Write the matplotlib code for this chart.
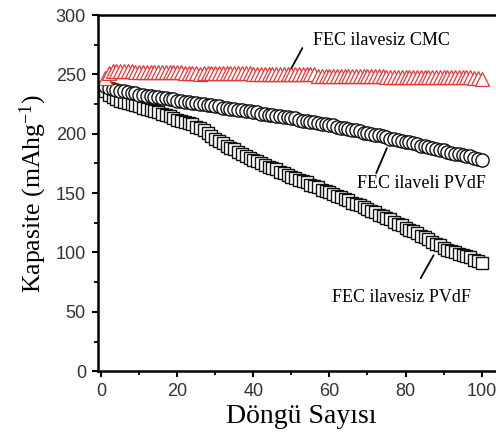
import matplotlib
matplotlib.use("Agg")
import matplotlib.pyplot as plt
import numpy as np

cycles = list(range(1, 101))

cmc_fec_free = [
    247, 251, 253, 253, 253, 253, 253, 253, 252, 252,
    252, 252, 252, 252, 252, 252, 252, 252, 252, 252,
    252, 251, 251, 251, 251, 250, 251, 251, 251, 251,
    251, 251, 251, 251, 251, 251, 251, 251, 251, 250,
    250, 250, 250, 250, 250, 250, 250, 250, 250, 250,
    250, 250, 250, 250, 250, 250, 249, 249, 249, 249,
    249, 249, 249, 249, 249, 249, 249, 249, 249, 249,
    249, 249, 249, 249, 248, 248, 248, 248, 248, 248,
    248, 248, 248, 248, 248, 248, 248, 248, 248, 248,
    248, 248, 248, 248, 248, 248, 248, 247, 247, 246,
]

pvdf_fec = [
    240, 239, 238, 237, 236, 236, 235, 234, 234, 233,
    233, 232, 232, 231, 231, 230, 230, 229, 229, 228,
    228, 227, 227, 226, 226, 225, 225, 224, 224, 223,
    223, 222, 222, 221, 221, 220, 220, 219, 219, 218,
    218, 217, 217, 216, 216, 215, 215, 214, 214, 213,
    213, 212, 211, 211, 210, 210, 209, 208, 208, 207,
    207, 206, 205, 205, 204, 203, 203, 202, 201, 201,
    200, 199, 199, 198, 197, 196, 196, 195, 194, 193,
    193, 192, 191, 190, 190, 189, 188, 187, 186, 186,
    185, 184, 183, 183, 182, 181, 181, 180, 179, 178,
]

pvdf_fec_free = [
    236, 233, 231, 229, 228, 227, 226, 225, 224, 223,
    222, 221, 220, 219, 218, 217, 216, 215, 213, 212,
    211, 210, 209, 208, 206, 205, 203, 201, 198, 196,
    194, 192, 190, 188, 187, 185, 183, 181, 180, 178,
    177, 175, 174, 172, 171, 170, 168, 167, 165, 164,
    163, 161, 160, 159, 157, 156, 155, 153, 152, 151,
    149, 148, 147, 145, 144, 142, 141, 140, 138, 137,
    135, 134, 132, 131, 129, 128, 126, 124, 123, 121,
    119, 118, 116, 114, 113, 111, 109, 107, 106, 104,
    102, 101, 100, 99, 98, 97, 96, 94, 93, 91,
]

x_ticks = [0, 20, 40, 60, 80, 100]
y_ticks = [0, 50, 100, 150, 200, 250, 300]

labels = ["FEC ilavesiz CMC", "FEC ilaveli PVdF", "FEC ilavesiz PVdF"]

serif = "Liberation Serif"
sans = "Liberation Sans"
plt.rcParams["mathtext.fontset"] = "custom"
plt.rcParams["mathtext.rm"] = serif
plt.rcParams["mathtext.it"] = serif + ":italic"

fig = plt.figure(figsize=(4.96, 4.44), dpi=100)
ax = fig.add_axes([0.197, 0.164, 0.82, 0.802])

ax.plot(cycles, pvdf_fec_free, linestyle="none", marker="s", markersize=8.3,
        markerfacecolor="white", markeredgecolor="#111111", markeredgewidth=1.0)
ax.plot(cycles, pvdf_fec, linestyle="none", marker="o", markersize=9.5,
        markerfacecolor="white", markeredgecolor="#111111", markeredgewidth=1.0)
ax.plot(cycles, cmc_fec_free, linestyle="none", marker="^", markersize=9.5,
        markerfacecolor="white", markeredgecolor="#e0393a", markeredgewidth=0.9)

ax.set_xlim(-0.9, 106)
ax.set_ylim(0, 300)
ax.set_xticks(x_ticks)
ax.set_yticks(y_ticks)
ax.set_xticks(np.arange(10, 100, 20), minor=True)
ax.set_yticks(np.arange(25, 300, 50), minor=True)
for lab in ax.get_xticklabels() + ax.get_yticklabels():
    lab.set_fontfamily(sans)
    lab.set_fontsize(13)
    lab.set_color("#333333")
ax.tick_params(which="major", direction="out", length=4.5, width=1.5, pad=4)
ax.tick_params(which="minor", direction="out", length=3, width=1.3)
ax.spines["right"].set_visible(False)
for s in ax.spines.values():
    s.set_linewidth(1.8)

ax.set_xlabel("Döngü Sayısı", fontfamily=serif, fontsize=20, labelpad=3)
ax.set_ylabel("Kapasite (mAhg$^{-1}$)", fontfamily=serif, fontsize=18.5, labelpad=5)

# labels
ax.text(73.8, 279, labels[0], fontfamily=serif, fontsize=13, ha="center", va="center")
ax.text(84.3, 158, labels[1], fontfamily=serif, fontsize=13, ha="center", va="center")
ax.text(79, 62, labels[2], fontfamily=serif, fontsize=13, ha="center", va="center")

# leader lines
leader = dict(arrowstyle="-", color="black", lw=1.3, shrinkA=0, shrinkB=0)
ax.annotate("", xy=(50, 255.3), xytext=(52.9, 272.2), arrowprops=leader)
ax.annotate("", xy=(75.1, 187.9), xytext=(72.3, 166.9), arrowprops=leader)
ax.annotate("", xy=(87.4, 97.8), xytext=(84, 78.4), arrowprops=leader)

fig.savefig("out.png", dpi=100)
